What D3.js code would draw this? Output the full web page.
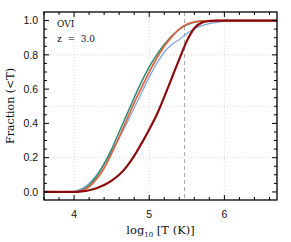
<!DOCTYPE html>
<html>
<head>
<meta charset="utf-8">
<script src="https://cdn.jsdelivr.net/npm/d3@7"></script>
<style>
  body { margin: 0; background: #fff; }
  svg text { fill: #111; }
</style>
</head>
<body>
<svg id="chart" width="291" height="242"></svg>
<script>
// cumulative fraction of OVI below T, z = 3.0

const logT = [3.6, 4.0, 4.1, 4.2, 4.3, 4.4, 4.5, 4.6, 4.7, 4.8, 4.9, 5.0, 5.1, 5.2, 5.3, 5.4, 5.5, 5.6, 5.7, 5.8, 5.9, 6.0, 6.2, 6.7];

const teal   = [0, 0, 0.01, 0.04, 0.09, 0.165, 0.25, 0.35, 0.45, 0.55, 0.645, 0.73, 0.80, 0.86, 0.91, 0.948, 0.975, 0.99, 0.996, 0.998, 0.999, 1, 1, 1];
const orange = [0, 0, 0.008, 0.03, 0.075, 0.14, 0.225, 0.32, 0.42, 0.52, 0.61, 0.70, 0.78, 0.85, 0.905, 0.95, 0.978, 0.992, 0.998, 1, 1, 1, 1, 1];
const blue   = [0, 0.003, 0.02, 0.05, 0.10, 0.16, 0.235, 0.315, 0.40, 0.49, 0.58, 0.67, 0.75, 0.815, 0.86, 0.89, 0.925, 0.952, 0.97, 0.982, 0.99, 0.995, 0.999, 1];
const darkRed = [0, 0, 0.003, 0.01, 0.022, 0.04, 0.066, 0.1, 0.148, 0.21, 0.285, 0.365, 0.45, 0.555, 0.665, 0.775, 0.88, 0.955, 0.988, 0.997, 1, 1, 1, 1];

const series = [
  {name: "blue", values: blue, color: "#7ea8d8", width: 1.3},
  {name: "teal", values: teal, color: "#2a8a78", width: 1.5},
  {name: "orange", values: orange, color: "#e4603a", width: 1.7},
  {name: "darkred", values: darkRed, color: "#8b0b0d", width: 2.2}
];

const xTicks = [4, 5, 6];
const yTicks = [0.0, 0.2, 0.4, 0.6, 0.8, 1.0];
const yGrid = [0.2, 0.5, 0.8];
const markT = 5.47;

const margin = {left: 44, top: 12, right: 14, bottom: 42};
const W = 291, H = 242;
const svg = d3.select("#chart");

const x = d3.scaleLinear().domain([3.6, 6.7]).range([margin.left, W - margin.right]);
const y = d3.scaleLinear().domain([-0.047, 1.05]).range([H - margin.bottom, margin.top]);

const x0 = x.range()[0], x1 = x.range()[1];
const y0 = y.range()[0], y1 = y.range()[1];

// grid
const grid = svg.append("g")
    .attr("stroke", "#cfcfcf")
    .attr("stroke-width", 0.8)
    .attr("stroke-dasharray", "1,2");
grid.selectAll("line.gx").data(xTicks).enter().append("line")
    .attr("x1", d => x(d)).attr("x2", d => x(d))
    .attr("y1", y1).attr("y2", y0);
grid.selectAll("line.gy").data(yGrid).enter().append("line")
    .attr("x1", x0).attr("x2", x1)
    .attr("y1", d => y(d)).attr("y2", d => y(d));

// dashed marker line
svg.append("line")
    .attr("x1", x(markT)).attr("x2", x(markT))
    .attr("y1", y1).attr("y2", y0)
    .attr("stroke", "#a8a8a8")
    .attr("stroke-width", 1)
    .attr("stroke-dasharray", "4,3");

// curves
const line = d3.line()
    .x((d, i) => x(logT[i]))
    .y(d => y(d))
    .curve(d3.curveMonotoneX);

svg.append("g").selectAll("path")
    .data(series)
    .enter()
    .append("path")
    .attr("d", d => line(d.values))
    .attr("fill", "none")
    .attr("stroke", d => d.color)
    .attr("stroke-width", d => d.width);

// ticks on all four sides, pointing in
const xMinor = d3.range(3.6, 6.71, 0.2);
const yMinor = d3.range(0, 1.001, 0.05);
const ticks = svg.append("g").attr("stroke", "#000").attr("stroke-width", 1);

xMinor.forEach(v => {
  const major = xTicks.some(t => Math.abs(t - v) < 1e-6);
  const len = major ? 5 : 3;
  ticks.append("line").attr("x1", x(v)).attr("x2", x(v)).attr("y1", y0).attr("y2", y0 - len);
  ticks.append("line").attr("x1", x(v)).attr("x2", x(v)).attr("y1", y1).attr("y2", y1 + len);
});
yMinor.forEach(v => {
  const major = yTicks.some(t => Math.abs(t - v) < 1e-6);
  const len = major ? 5 : 3;
  ticks.append("line").attr("x1", x0).attr("x2", x0 + len).attr("y1", y(v)).attr("y2", y(v));
  ticks.append("line").attr("x1", x1).attr("x2", x1 - len).attr("y1", y(v)).attr("y2", y(v));
});

// frame
svg.append("rect")
    .attr("x", x0).attr("y", y1)
    .attr("width", x1 - x0).attr("height", y0 - y1)
    .attr("fill", "none")
    .attr("stroke", "#000")
    .attr("stroke-width", 1.3);

// tick labels
svg.append("g").selectAll("text")
    .data(xTicks).enter().append("text")
    .attr("x", d => x(d))
    .attr("y", y0 + 18)
    .attr("text-anchor", "middle")
    .attr("font-family", "Liberation Sans, Arial, sans-serif")
    .attr("font-size", 10.5)
    .text(d => d);

svg.append("g").selectAll("text")
    .data(yTicks).enter().append("text")
    .attr("x", x0 - 6)
    .attr("y", d => y(d) + 3.7)
    .attr("text-anchor", "end")
    .attr("font-family", "Liberation Sans, Arial, sans-serif")
    .attr("font-size", 10.5)
    .text(d => d.toFixed(1));

// axis titles
const xt = svg.append("text")
    .attr("x", (x0 + x1) / 2)
    .attr("y", H - 8)
    .attr("text-anchor", "middle")
    .attr("font-family", "DejaVu Serif, serif")
    .attr("font-size", 11.5);
xt.append("tspan").text("log");
xt.append("tspan").attr("font-size", 7).attr("dy", 3).text("10");
xt.append("tspan").attr("dy", -3).text(" [T (K)]");

svg.append("text")
    .attr("transform", `translate(14,${(y0 + y1) / 2}) rotate(-90)`)
    .attr("text-anchor", "middle")
    .attr("font-family", "DejaVu Serif, serif")
    .attr("font-size", 11)
    .text("Fraction (<T)");

// annotations
svg.append("text")
    .attr("x", x0 + 13).attr("y", y1 + 15)
    .attr("font-family", "DejaVu Serif, serif")
    .attr("font-size", 9)
    .attr("fill", "#333")
    .text("OVI");
svg.append("text")
    .attr("x", x0 + 13).attr("y", y1 + 30)
    .attr("font-family", "DejaVu Serif, serif")
    .attr("font-size", 9)
    .attr("fill", "#333")
    .attr("xml:space", "preserve")
    .text("z  =  3.0");
</script>
</body>
</html>
